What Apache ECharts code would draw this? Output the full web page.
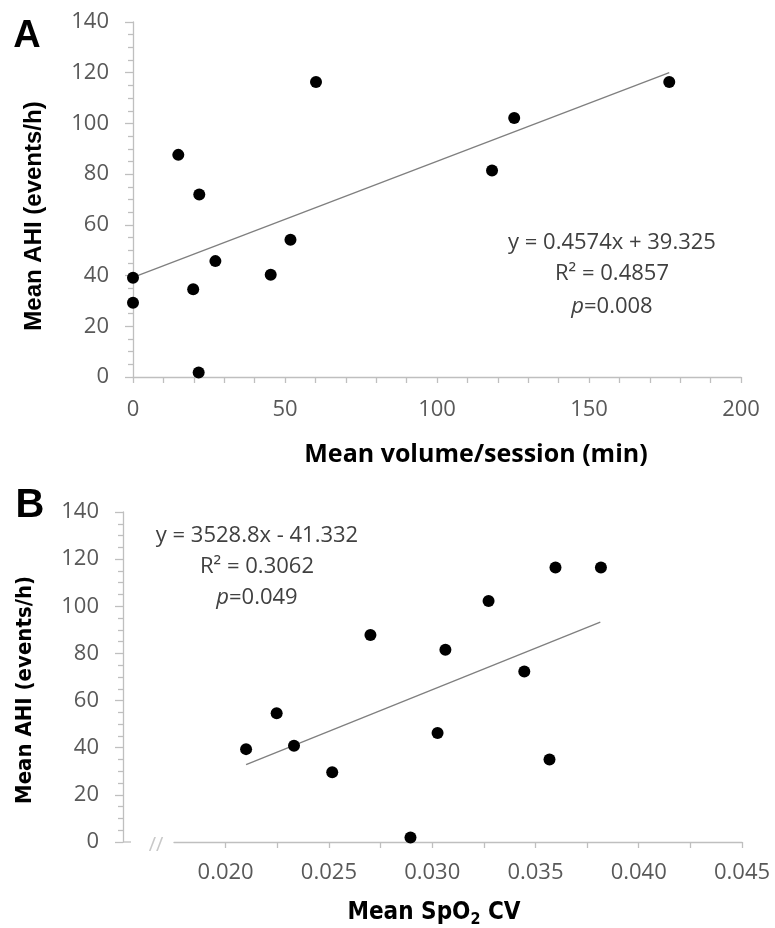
<!DOCTYPE html>
<html>
<head>
<meta charset="utf-8">
<script src="https://cdn.jsdelivr.net/npm/echarts@6/dist/echarts.min.js"></script>
<style>
  html, body { margin: 0; padding: 0; background: #fff; }
  #chart { width: 775px; height: 928px; }
</style>
</head>
<body>
<div id="chart"></div>
<script>
// Panel A: mean volume per session (min) vs mean AHI
const volumeA = [60.2, 14.9, 21.8, 0, 0, 19.8, 27.1, 45.3, 51.8, 21.6, 176.4, 125.4, 118.1];
const ahiA = [116.3, 87.6, 72.0, 39.1, 29.3, 34.6, 45.7, 40.3, 54.1, 1.8, 116.3, 102.1, 81.4];
const trendAx = [0, 176.4];
const trendAy = [39.3, 120.0];
const statsA = ['y = 0.4574x + 39.325', 'R² = 0.4857', '{i|p}=0.008'];

// Panel B: mean SpO2 CV vs mean AHI
const cvB = [0.02099, 0.02247, 0.02331, 0.02516, 0.02701, 0.02895, 0.03026, 0.03064, 0.03273, 0.03446, 0.03568, 0.03597, 0.03817];
const ahiB = [39.4, 54.6, 40.8, 29.6, 87.8, 1.9, 46.2, 81.6, 102.2, 72.3, 35.0, 116.5, 116.5];
const trendBx = [0.02099, 0.03814];
const trendBy = [32.8, 93.3];
const statsB = ['y = 3528.8x - 41.332', 'R² = 0.3062', '{i|p}=0.049'];

const yTicks = [0, 20, 40, 60, 80, 100, 120, 140];

const AXIS_GRAY = '#bfbfbf';
const LABEL_GRAY = '#595959';
const TEXT_GRAY = '#404040';
const tickFont = '"Open Sans", "Noto Sans", sans-serif';
const narrowFont = '"Liberation Sans Narrow", "DejaVu Sans Condensed", sans-serif';
const gridA = { left: 133, top: 22, width: 608, height: 355 };
const gridB = { left: 174, top: 512, width: 568, height: 330 };
const yOffsetB = 51;

const zip = (xs, ys) => xs.map((x, i) => [x, ys[i]]);

const chart = echarts.init(document.getElementById('chart'), null, { renderer: 'canvas' });

const labelStyle = { color: LABEL_GRAY, fontSize: 22, fontFamily: tickFont };

function yAxisCfg(gridIndex, offset) {
  return {
    type: 'value', gridIndex, offset,
    min: yTicks[0], max: yTicks[yTicks.length - 1], interval: yTicks[1] - yTicks[0],
    splitLine: { show: false },
    axisLine: { show: true, lineStyle: { color: AXIS_GRAY, width: 1.3 } },
    axisTick: { show: true, length: 8, lineStyle: { color: AXIS_GRAY, width: 1.3 } },
    minorTick: { show: true, splitNumber: 4, length: 5, lineStyle: { color: AXIS_GRAY, width: 1.3 } },
    axisLabel: Object.assign({ margin: 24 }, labelStyle)
  };
}

function statText(lines, cx, ys) {
  return lines.map((t, i) => ({
    type: 'text', x: cx, y: ys[i],
    style: {
      text: t, align: 'center', verticalAlign: 'middle', fill: TEXT_GRAY,
      fontSize: 22, fontFamily: tickFont,
      rich: { i: { fontStyle: 'italic', fontSize: 22, fontFamily: tickFont, fill: TEXT_GRAY } }
    }
  }));
}

const y0B = gridB.top + gridB.height;
const axisXB = gridB.left - yOffsetB;

chart.setOption({
  animation: false,
  grid: [
    Object.assign({ containLabel: false }, gridA),
    Object.assign({ containLabel: false }, gridB)
  ],
  xAxis: [
    {
      type: 'value', gridIndex: 0, min: 0, max: 200, interval: 50,
      splitLine: { show: false },
      axisLine: { onZero: false, lineStyle: { color: AXIS_GRAY, width: 1.3 } },
      axisTick: { show: true, length: 6, lineStyle: { color: AXIS_GRAY, width: 1.3 } },
      minorTick: { show: true, splitNumber: 5, length: 6, lineStyle: { color: AXIS_GRAY, width: 1.3 } },
      axisLabel: Object.assign({ margin: 22 }, labelStyle)
    },
    {
      type: 'value', gridIndex: 1, min: 0.0175, max: 0.045, interval: 0.0025,
      splitLine: { show: false },
      axisLine: { onZero: false, lineStyle: { color: AXIS_GRAY, width: 1.3 } },
      axisTick: { show: true, length: 6, lineStyle: { color: AXIS_GRAY, width: 1.3 } },
      axisLabel: Object.assign({
        margin: 20,
        showMinLabel: false,
        formatter: v => (Math.round(v / 0.0025) % 2 === 0 ? v.toFixed(3) : '')
      }, labelStyle)
    }
  ],
  yAxis: [yAxisCfg(0, 0), yAxisCfg(1, yOffsetB)],
  series: [
    {
      type: 'line', xAxisIndex: 0, yAxisIndex: 0, data: zip(trendAx, trendAy),
      symbol: 'none', lineStyle: { color: '#7f7f7f', width: 1.3 }, z: 2
    },
    {
      type: 'scatter', xAxisIndex: 0, yAxisIndex: 0, data: zip(volumeA, ahiA),
      symbolSize: 12, itemStyle: { color: '#000', opacity: 1 }, z: 3
    },
    {
      type: 'line', xAxisIndex: 1, yAxisIndex: 1, data: zip(trendBx, trendBy),
      symbol: 'none', lineStyle: { color: '#7f7f7f', width: 1.3 }, z: 2
    },
    {
      type: 'scatter', xAxisIndex: 1, yAxisIndex: 1, data: zip(cvB, ahiB),
      symbolSize: 12, itemStyle: { color: '#000', opacity: 1 }, z: 3
    }
  ],
  graphic: [
    // panel letters
    { type: 'text', x: 27, y: 37, style: { text: 'A', align: 'center', verticalAlign: 'middle', fill: '#000', fontSize: 38, fontWeight: 'bold', fontFamily: '"Liberation Sans", Arial, sans-serif' } },
    { type: 'text', x: 30, y: 506, style: { text: 'B', align: 'center', verticalAlign: 'middle', fill: '#000', fontSize: 40, fontWeight: 'bold', fontFamily: '"Liberation Sans", Arial, sans-serif' } },
    // axis titles
    { type: 'text', x: 34, y: 216, rotation: Math.PI / 2, style: { text: 'Mean AHI (events/h)', align: 'center', verticalAlign: 'middle', fill: '#000', fontSize: 24, fontWeight: 'bold', fontFamily: '"Liberation Sans", Arial, sans-serif' } },
    { type: 'text', x: 476, y: 455, style: { text: 'Mean volume/session (min)', align: 'center', verticalAlign: 'middle', fill: '#000', fontSize: 25, fontWeight: 'bold', fontFamily: '"Open Sans", Lato, sans-serif' } },
    { type: 'text', x: 25, y: 690, rotation: Math.PI / 2, style: { text: 'Mean AHI (events/h)', align: 'center', verticalAlign: 'middle', fill: '#000', fontSize: 22, fontWeight: 'bold', fontFamily: narrowFont } },
    {
      type: 'text', x: 434, y: 913,
      style: {
        text: '{m|Mean SpO}{s|2}{m| CV}', align: 'center', verticalAlign: 'middle',
        rich: {
          m: { fontSize: 24, fontWeight: 'bold', fill: '#000', lineHeight: 30, verticalAlign: 'middle', fontFamily: narrowFont },
          s: { fontSize: 16, fontWeight: 'bold', fill: '#000', lineHeight: 30, verticalAlign: 'bottom', fontFamily: narrowFont }
        }
      }
    },
    // x-axis stub at the y-axis of panel B and the axis break mark
    { type: 'line', shape: { x1: axisXB, y1: y0B, x2: axisXB + 8, y2: y0B }, style: { stroke: AXIS_GRAY, lineWidth: 1.3 } },
    { type: 'text', x: axisXB + 33, y: y0B + 3, style: { text: '//', align: 'center', verticalAlign: 'middle', fill: '#c8c8c8', fontSize: 20, fontFamily: tickFont } }
  ].concat(statText(statsA, 612, [243, 274, 307]), statText(statsB, 257, [536, 567, 598]))
});
</script>
</body>
</html>
